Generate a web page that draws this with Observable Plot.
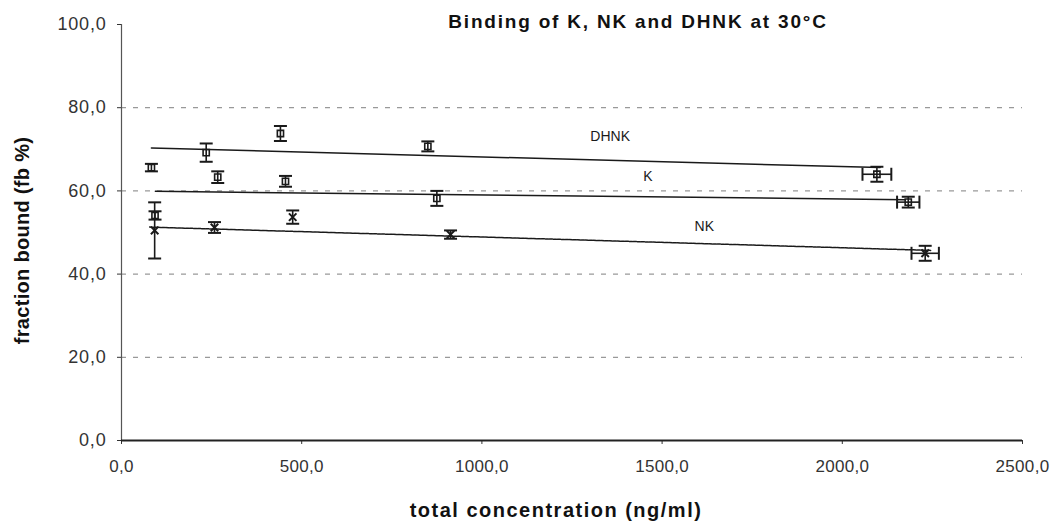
<!DOCTYPE html>
<html>
<head>
<meta charset="utf-8">
<script src="https://cdn.jsdelivr.net/npm/d3@7"></script>
<script src="https://cdn.jsdelivr.net/npm/@observablehq/plot@0.6"></script>
<style>
  html, body { margin: 0; padding: 0; background: #fff; }
  #chart { width: 1054px; height: 521px; }
</style>
</head>
<body>
<div id="chart"></div>
<script>
// ---- data ----
const title = "Binding of K, NK and DHNK at 30°C";
const xLabel = "total concentration (ng/ml)";
const yLabel = "fraction bound (fb %)";
const xTicks = [0, 500, 1000, 1500, 2000, 2500];
const yTicks = [0, 20, 40, 60, 80, 100];
const gridValues = [20, 40, 60, 80];

const seriesNames = ["DHNK", "K", "NK"];

const dhnkConc = [83, 235, 441, 850, 2096];
const dhnkFb = [65.6, 69.2, 73.8, 70.7, 64.0];
const dhnkErrY = [0.9, 2.2, 1.8, 1.2, 1.8];
const dhnkErrX = [0, 0, 0, 0, 40];

const kConc = [93, 267, 455, 875, 2183];
const kFb = [54.1, 63.3, 62.3, 58.2, 57.3];
const kErrY = [1.0, 1.4, 1.3, 1.8, 1.3];
const kErrX = [0, 0, 0, 0, 31];

const nkConc = [92, 258, 475, 913, 2230];
const nkFb = [50.5, 51.2, 53.7, 49.5, 45.0];
const nkErrY = [6.75, 1.3, 1.6, 1.0, 1.8];
const nkErrX = [0, 0, 0, 0, 38];

// trend lines (start / end)
const trendX1 = [83, 94, 78];
const trendX2 = [2105, 2175, 2245];
const trendY1 = [70.3, 59.9, 51.3];
const trendY2 = [65.6, 57.9, 45.7];

// in-plot series labels
const labelX = [1356, 1461, 1617];
const labelY = [73.1, 63.5, 51.4];

// ---- build tables ----
function mk(name, xs, ys, eys, exs) {
  return xs.map((x, i) => ({series: name, x, y: ys[i], ey: eys[i], ex: exs[i]}));
}
const points = [
  ...mk("DHNK", dhnkConc, dhnkFb, dhnkErrY, dhnkErrX),
  ...mk("K", kConc, kFb, kErrY, kErrX),
  ...mk("NK", nkConc, nkFb, nkErrY, nkErrX)
];
const hPoints = points.filter(d => d.ex > 0);
const trends = seriesNames.flatMap((s, i) => [
  {series: s, x: trendX1[i], y: trendY1[i]},
  {series: s, x: trendX2[i], y: trendY2[i]}
]);
const labels = seriesNames.map((s, i) => ({series: s, x: labelX[i], y: labelY[i]}));

const hCap = {draw(ctx, size) { const r = Math.sqrt(size / Math.PI); ctx.moveTo(-r, 0); ctx.lineTo(r, 0); }};
const vCap = {draw(ctx, size) { const r = Math.sqrt(size / Math.PI); ctx.moveTo(0, -r); ctx.lineTo(0, r); }};

const fmt = d => d.toFixed(1).replace(".", ",");
const ink = "#1a1a1a";
const FONT = "'Liberation Sans', Arial, sans-serif";

const chart = Plot.plot({
  width: 1054,
  height: 521,
  marginLeft: 121,
  marginRight: 32,
  marginTop: 24,
  marginBottom: 81,
  style: {fontFamily: FONT, color: "#333", background: "#fff", fontSize: "17px"},
  x: {domain: [0, 2500]},
  y: {domain: [0, 100]},
  marks: [
    Plot.ruleY(gridValues, {stroke: "#999", strokeDasharray: "5,7", strokeWidth: 1.2}),
    Plot.ruleX([0], {stroke: "#555", strokeWidth: 1.2}),
    Plot.axisY({ticks: yTicks, tickFormat: fmt, tickSize: 4, tickPadding: 11, label: null}),
    Plot.axisX({ticks: xTicks, tickFormat: fmt, tickSize: 4, tickPadding: 15, label: null}),
    Plot.ruleY([0], {stroke: "#222", strokeWidth: 2}),
    // trend lines
    Plot.line(trends.filter(d => d.series !== "NK"), {x: "x", y: "y", z: "series", stroke: ink, strokeWidth: 1.5}),
    Plot.line(trends.filter(d => d.series === "NK"), {x: "x", y: "y", z: "series", stroke: ink, strokeWidth: 1.5, strokeDasharray: "3,1"}),
    // vertical error bars
    Plot.link(points, {x1: "x", x2: "x", y1: d => d.y - d.ey, y2: d => d.y + d.ey, stroke: ink, strokeWidth: 1.6}),
    Plot.dot(points, {x: "x", y: d => d.y - d.ey, symbol: hCap, r: 6.5, stroke: ink, strokeWidth: 2}),
    Plot.dot(points, {x: "x", y: d => d.y + d.ey, symbol: hCap, r: 6.5, stroke: ink, strokeWidth: 2}),
    // horizontal error bars
    Plot.link(hPoints, {x1: d => d.x - d.ex, x2: d => d.x + d.ex, y1: "y", y2: "y", stroke: ink, strokeWidth: 1.6}),
    Plot.dot(hPoints, {x: d => d.x - d.ex, y: "y", symbol: vCap, r: 6.5, stroke: ink, strokeWidth: 2}),
    Plot.dot(hPoints, {x: d => d.x + d.ex, y: "y", symbol: vCap, r: 6.5, stroke: ink, strokeWidth: 2}),
    // markers
    Plot.dot(points.filter(d => d.series !== "NK"), {x: "x", y: "y", symbol: "square", r: 3.5, stroke: ink, strokeWidth: 1.6, fill: "none"}),
    Plot.dot(points.filter(d => d.series === "NK"), {x: "x", y: "y", symbol: "times", r: 3.5, stroke: ink, strokeWidth: 2}),
    // series labels
    Plot.text(labels, {x: "x", y: "y", text: "series", fontSize: 14, fill: ink}),
    // title and axis labels
    Plot.text([title], {frameAnchor: "top", lineAnchor: "middle", dx: 66, dy: -3, fontSize: 19, fontWeight: "bold", fill: "#111"}),
    Plot.text([yLabel], {frameAnchor: "left", textAnchor: "middle", rotate: -90, dx: -99, dy: 8, fontSize: 20, fontWeight: "bold", fill: "#111"}),
    Plot.text([xLabel], {frameAnchor: "bottom", lineAnchor: "middle", dx: -16, dy: 70, fontSize: 20, fontWeight: "bold", fill: "#111"})
  ]
});
document.getElementById("chart").appendChild(chart);

// typographic tweaks (letter spacing / tick label sizes)
const sel = d3.select(chart);
sel.selectAll('g[aria-label="y-axis tick label"] text').style("font-size", "18px").style("letter-spacing", "0.8px");
sel.selectAll('g[aria-label="x-axis tick label"] text').style("font-size", "17px").style("letter-spacing", "0.3px");
sel.selectAll("text").each(function() {
  const t = this.textContent;
  if (t === title) this.style.letterSpacing = "1.8px";
  if (t === xLabel) this.style.letterSpacing = "1.5px";
  if (t === yLabel) this.style.letterSpacing = "0.3px";
});
</script>
</body>
</html>
